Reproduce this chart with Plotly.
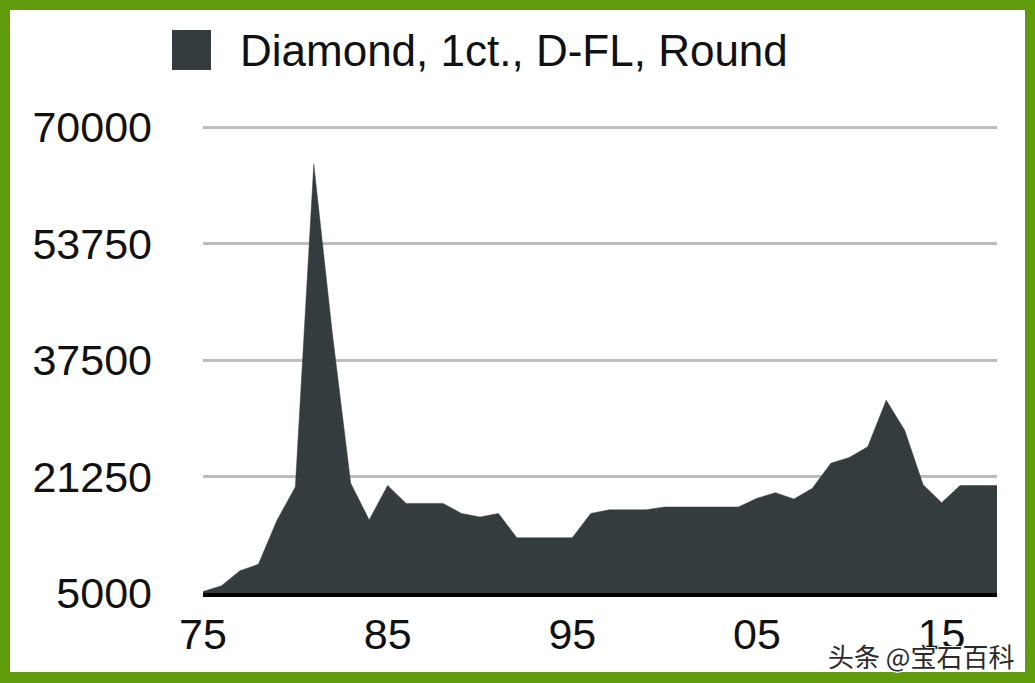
import plotly.graph_objects as go

# ---- data ----
years = list(range(1975, 2019))
prices = [5200, 6000, 8100, 9000, 15100, 19800, 64800, 41300, 20300, 15200,
          20000, 17500, 17500, 17500, 16100, 15600, 16100, 12700, 12700, 12700,
          12700, 16100, 16600, 16600, 16600, 17000, 17000, 17000, 17000, 17000,
          18200, 19000, 18100, 19600, 23100, 23900, 25400, 31900, 27700, 20100,
          17600, 20000, 20000, 20000]
series_name = "Diamond, 1ct., D-FL, Round"
y_tickvals = [5000, 21250, 37500, 53750, 70000]
y_ticktext = ["5000", "21250", "37500", "53750", "70000"]
x_tickvals = [1975, 1985, 1995, 2005, 2015]
x_ticktext = ["75", "85", "95", "05", "15"]
watermark = "头条 @宝石百科"

# ---- layout geometry (pixels) ----
W, H = 1035, 683
L, R, T, B = 203, 38, 124, 90
PW, PH = W - L - R, H - T - B

def px(x):
    return (x - L) / PW

def py(y):
    return (H - B - y) / PH

FILL = "#343c3e"
GREEN = "#5f9b0a"
FONT = "Liberation Sans, Arial, Helvetica, sans-serif"

fig = go.Figure()
fig.add_trace(go.Scatter(
    x=years, y=prices, mode="lines", fill="tozeroy",
    line=dict(color=FILL, width=0.5), fillcolor=FILL,
    name=series_name, showlegend=False, hoverinfo="x+y",
))

shapes = [
    # white card inside the green frame
    dict(type="rect", xref="paper", yref="paper", layer="below",
         x0=px(10), x1=px(1025), y0=py(672), y1=py(10),
         fillcolor="white", line=dict(width=0)),
    # legend swatch
    dict(type="rect", xref="paper", yref="paper",
         x0=px(172), x1=px(211), y0=py(70), y1=py(30),
         fillcolor=FILL, line=dict(width=0)),
]

annotations = [
    dict(text=series_name, xref="paper", yref="paper", x=px(238), y=py(50),
         xanchor="left", yanchor="middle", showarrow=False,
         font=dict(family=FONT, size=44, color="#111111")),
    dict(text=watermark, xref="paper", yref="paper", x=px(826), y=py(655),
         xanchor="left", yanchor="middle", showarrow=False,
         font=dict(family="Noto Sans CJK SC", size=26, color="#2a2a2a",
                   shadow="1px 1px 0px white, -1px -1px 0px white, 1px -1px 0px white, -1px 1px 0px white")),
]

fig.update_layout(
    width=W, height=H,
    margin=dict(l=L, r=R, t=T, b=B, pad=0),
    paper_bgcolor=GREEN, plot_bgcolor="white",
    showlegend=False,
    shapes=shapes, annotations=annotations,
    font=dict(family=FONT, color="#111111"),
    xaxis=dict(range=[1975, 2018], tickvals=x_tickvals, ticktext=x_ticktext,
               showgrid=False, zeroline=False,
               showline=True, linecolor="black", linewidth=4,
               ticks="", ticklabelstandoff=0,
               tickfont=dict(family=FONT, size=43, color="#111111")),
    yaxis=dict(range=[5000, 70420], tickvals=y_tickvals, ticktext=y_ticktext,
               showgrid=True, gridcolor="#bdbdbd", gridwidth=3,
               zeroline=False, showline=False, ticks="",
               ticklabelstandoff=50,
               tickfont=dict(family=FONT, size=43, color="#111111")),
)

fig.write_html("out.html", config={"displayModeBar": False},
               post_script="document.body.style.margin='0';document.body.style.overflow='hidden';")
